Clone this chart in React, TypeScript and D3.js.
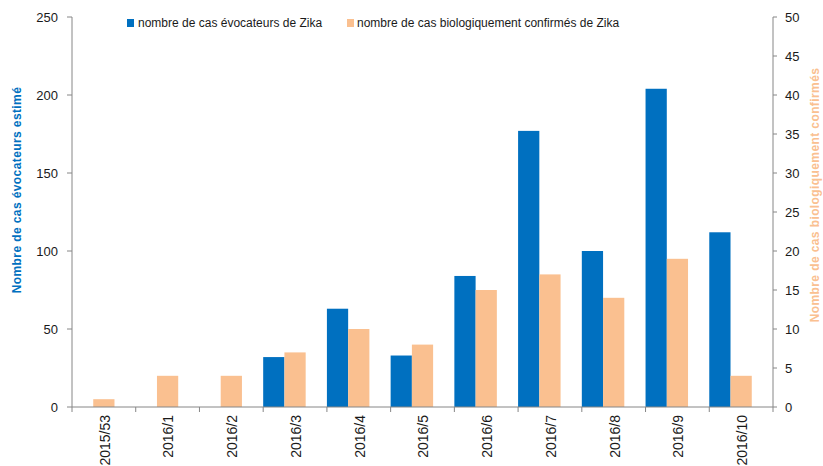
import * as d3 from "d3";

const categories = ["2015/53", "2016/1", "2016/2", "2016/3", "2016/4", "2016/5", "2016/6", "2016/7", "2016/8", "2016/9", "2016/10"];
const evocateurs = [0, 0, 0, 32, 63, 33, 84, 177, 100, 204, 112];
const confirmes = [1, 4, 4, 7, 10, 8, 15, 17, 14, 19, 4];
const leftTicks = [0, 50, 100, 150, 200, 250];
const rightTicks = [0, 5, 10, 15, 20, 25, 30, 35, 40, 45, 50];

const BLUE = "#0070C0";
const ORANGE = "#FAC090";
const AXIS = "#868686";
const FONT = "'Liberation Sans', Arial, sans-serif";

export default function App() {
  const width = 823;
  const height = 466;
  const m = { top: 17, right: 50, bottom: 59, left: 72 };
  const x0 = m.left;
  const x1 = width - m.right;
  const y0 = height - m.bottom;

  const x = d3.scaleBand().domain(categories).range([x0, x1]).padding(0);
  const yL = d3.scaleLinear().domain([0, 250]).range([y0, m.top]);
  const yR = d3.scaleLinear().domain([0, 50]).range([y0, m.top]);
  const bw = x.bandwidth() / 3;

  return (
    <svg width={width} height={height} style={{ position: "absolute", left: 0, top: 0, fontFamily: FONT }}>
      <rect width={width} height={height} fill="white" />
      {/* bars */}
      {categories.map((c, i) => (
        <g key={c}>
          {evocateurs[i] > 0 && (
            <rect x={x(c)!} y={yL(evocateurs[i])} width={bw} height={y0 - yL(evocateurs[i])} fill={BLUE} />
          )}
          <rect x={x(c)! + bw} y={yR(confirmes[i])} width={bw} height={y0 - yR(confirmes[i])} fill={ORANGE} />
        </g>
      ))}
      {/* left axis */}
      <line x1={x0} x2={x0} y1={m.top} y2={y0} stroke={AXIS} />
      {leftTicks.map((t) => (
        <g key={t}>
          <line x1={x0 - 5} x2={x0} y1={yL(t)} y2={yL(t)} stroke={AXIS} />
          <text x={x0 - 14} y={yL(t)} dy="0.35em" textAnchor="end" fontSize={13} fill="#1a1a1a">
            {t}
          </text>
        </g>
      ))}
      {/* right axis */}
      <line x1={x1} x2={x1} y1={m.top} y2={y0} stroke={AXIS} />
      {rightTicks.map((t) => (
        <g key={t}>
          <line x1={x1} x2={x1 + 4} y1={yR(t)} y2={yR(t)} stroke={AXIS} />
          <text x={x1 + 12} y={yR(t)} dy="0.35em" textAnchor="start" fontSize={13} fill="#1a1a1a">
            {t}
          </text>
        </g>
      ))}
      {/* x axis */}
      <line x1={x0} x2={x1} y1={y0} y2={y0} stroke={AXIS} />
      {categories.map((c) => (
        <line key={"t" + c} x1={x(c)!} x2={x(c)!} y1={y0} y2={y0 + 5} stroke={AXIS} />
      ))}
      <line x1={x1} x2={x1} y1={y0} y2={y0 + 5} stroke={AXIS} />
      {categories.map((c) => {
        const cx = x(c)! + x.bandwidth() / 2 + 1;
        const cy = y0 + 8;
        return (
          <text key={"l" + c} transform={`translate(${cx},${cy}) rotate(-90)`} textAnchor="end" dy="0.35em" fontSize={14} fill="#1a1a1a">
            {c}
          </text>
        );
      })}
      {/* axis titles */}
      <text transform={`translate(17,${(m.top + y0) / 2 - 22}) rotate(-90)`} textAnchor="middle" dy="0.35em" fontSize={12} fontWeight="bold" letterSpacing={0.4} fill={BLUE}>
        Nombre de cas évocateurs estimé
      </text>
      <text transform={`translate(815,${(m.top + y0) / 2 - 17}) rotate(-90)`} textAnchor="middle" dy="0.35em" fontSize={12} fontWeight="bold" letterSpacing={0.4} fill={ORANGE}>
        Nombre de cas  biologiquement confirmés
      </text>
      {/* legend */}
      <rect x={127} y={19} width={7} height={8} fill={BLUE} />
      <text x={138} y={23} dy="0.35em" fontSize={12} fill="#1a1a1a">nombre de cas évocateurs de Zika</text>
      <rect x={347} y={19} width={7} height={8} fill={ORANGE} />
      <text x={357} y={23} dy="0.35em" fontSize={12} fill="#1a1a1a">nombre de cas biologiquement confirmés de Zika</text>
    </svg>
  );
}
